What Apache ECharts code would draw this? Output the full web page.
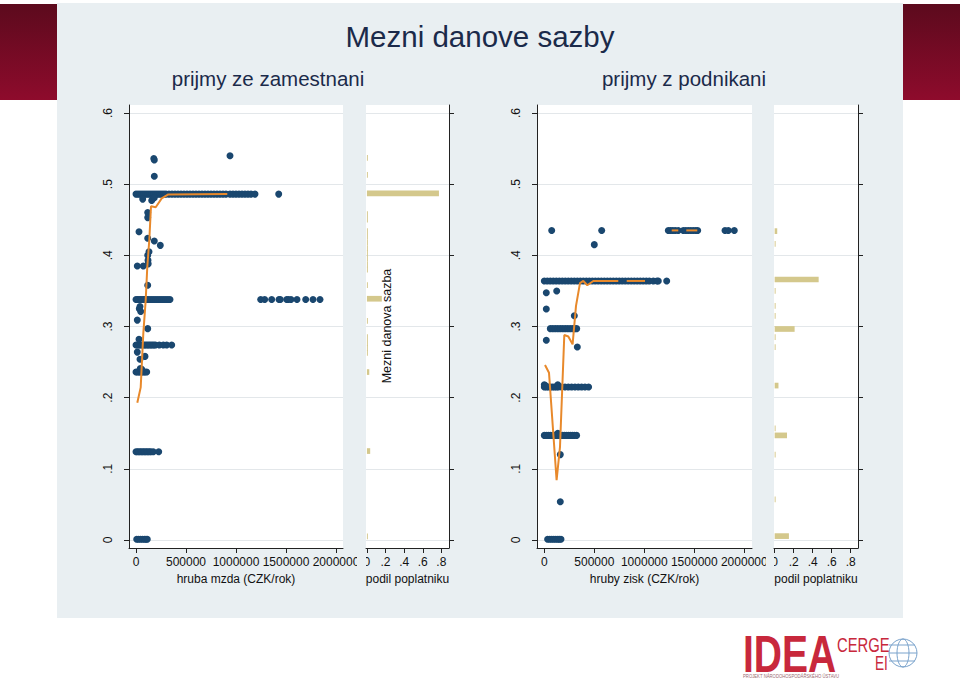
<!DOCTYPE html>
<html>
<head>
<meta charset="utf-8">
<title>Mezni danove sazby</title>
<script src="https://cdn.jsdelivr.net/npm/echarts@6/dist/echarts.min.js"></script>
<style>
  html, body { margin: 0; padding: 0; background: #fff; }
  #chart { width: 960px; height: 682px; }
</style>
</head>
<body>
<div id="chart"></div>
<script>
// --- prijmy ze zamestnani (rows of points that share one rate) ---
const zamRates = [0.486, 0.338, 0.274, 0.236, 0.124, 0.001];
const zamIncomes = [
  [0, 20000, 40000, 60000, 80000, 100000, 120000, 140000, 160000, 180000, 200000, 220000, 240000, 260000, 280000, 300000, 330000, 360000, 390000, 420000, 450000, 480000, 510000, 540000, 570000, 600000, 630000, 660000, 690000, 720000, 750000, 780000, 810000, 840000, 870000, 900000, 940000, 970000, 1000000, 1030000, 1060000, 1090000, 1120000, 1150000, 1190000, 1427000],
  [0, 15000, 30000, 45000, 60000, 75000, 90000, 105000, 120000, 140000, 160000, 180000, 200000, 220000, 240000, 260000, 280000, 300000, 320000, 340000, 1247000, 1287000, 1357000, 1430000, 1443000, 1507000, 1523000, 1550000, 1610000, 1697000, 1770000, 1840000],
  [0, 15000, 30000, 45000, 60000, 75000, 90000, 105000, 120000, 135000, 150000, 165000, 180000, 195000, 233000, 273000, 307000, 357000],
  [0, 15000, 30000, 45000, 60000, 75000, 90000, 107000],
  [0, 15000, 30000, 45000, 60000, 75000, 90000, 105000, 120000, 135000, 150000, 173000, 227000],
  [7000, 25000, 45000, 65000, 85000, 100000, 113000]
];
const zamSingles = [
  [940000, 0.540], [183000, 0.534], [178000, 0.536], [183000, 0.511], [67000, 0.479], [157000, 0.477],
  [170000, 0.480], [183000, 0.481], [117000, 0.460], [117000, 0.453], [30000, 0.433], [117000, 0.424],
  [183000, 0.420], [243000, 0.414], [130000, 0.405], [117000, 0.400], [120000, 0.393], [122000, 0.388],
  [13000, 0.385], [73000, 0.385], [117000, 0.358], [40000, 0.328], [33000, 0.325], [47000, 0.321],
  [13000, 0.309], [117000, 0.297], [30000, 0.282], [13000, 0.264], [90000, 0.258], [40000, 0.254],
  [43000, 0.241], [57000, 0.240]
];
const zamLine = [
  [13000, 0.193], [47000, 0.2145], [73000, 0.290], [97000, 0.337], [113000, 0.384], [133000, 0.4215],
  [150000, 0.469], [197000, 0.4675], [257000, 0.480], [323000, 0.4855], [913000, 0.486]
];
// podil poplatniku: [podil, sazba]
const zamHist = [
  [0.01, 0.537], [0.01, 0.513], [0.774, 0.487], [0.01, 0.458], [0.01, 0.450], [0.01, 0.434], [0.01, 0.426],
  [0.01, 0.418], [0.01, 0.410], [0.01, 0.403], [0.01, 0.395], [0.01, 0.387], [0.01, 0.380], [0.01, 0.358],
  [0.16, 0.339], [0.01, 0.308], [0.01, 0.285], [0.01, 0.277], [0.01, 0.270], [0.01, 0.263], [0.025, 0.236],
  [0.035, 0.125], [0.01, 0.005]
];

// --- prijmy z podnikani ---
const podRates = [0.435, 0.364, 0.297, 0.215, 0.147, 0.001];
const podIncomes = [
  [74000, 574000, 1240000, 1262000, 1285000, 1310000, 1340000, 1390000, 1415000, 1440000, 1465000, 1490000, 1515000, 1534000, 1807000, 1840000, 1900000],
  [0, 30000, 60000, 90000, 120000, 150000, 180000, 210000, 240000, 270000, 300000, 330000, 360000, 390000, 420000, 450000, 480000, 510000, 540000, 570000, 600000, 630000, 660000, 690000, 720000, 750000, 780000, 810000, 840000, 870000, 900000, 930000, 960000, 990000, 1020000, 1050000, 1090000, 1127000, 1140000, 1224000],
  [60000, 85000, 110000, 135000, 160000, 185000, 210000, 235000, 260000, 285000, 305000, 324000],
  [0, 20000, 40000, 60000, 80000, 100000, 120000, 140000, 173000, 207000, 240000, 273000, 307000, 340000, 373000, 407000, 443000],
  [0, 20000, 40000, 60000, 80000, 100000, 120000, 140000, 160000, 180000, 200000, 220000, 240000, 260000, 280000, 300000, 323000],
  [33000, 55000, 75000, 95000, 115000, 135000, 150000, 167000]
];
const podSingles = [
  [500000, 0.415], [20000, 0.3475], [124000, 0.3498], [20000, 0.3246], [300000, 0.3152], [20000, 0.2806],
  [330000, 0.2712], [0, 0.218], [10000, 0.217], [135000, 0.218], [160000, 0.120], [160000, 0.0538], [135000, 0.150]
];
const podLineA = [
  [7000, 0.246], [47000, 0.235], [123000, 0.084], [157000, 0.131], [200000, 0.288], [240000, 0.286],
  [283000, 0.275], [317000, 0.329], [357000, 0.361], [390000, 0.364], [430000, 0.358], [490000, 0.364], [740000, 0.364]
];
const podLineB = [[824000, 0.364], [1007000, 0.364]];
const podLineC = [[1274000, 0.435], [1340000, 0.435]];
const podLineD = [[1420000, 0.435], [1530000, 0.435]];
const podHist = [
  [0.027, 0.434], [0.01, 0.416], [0.463, 0.366], [0.01, 0.350], [0.01, 0.329], [0.01, 0.315], [0.21, 0.2965],
  [0.01, 0.285], [0.01, 0.271], [0.04, 0.217], [0.01, 0.157], [0.13, 0.147], [0.01, 0.120], [0.01, 0.057],
  [0.15, 0.0055]
];

// tick labels
const incomeTicks = [0, 500000, 1000000, 1500000, 2000000];
const rateTicks = [0, 0.1, 0.2, 0.3, 0.4, 0.5, 0.6];
const shareTicks = [0, 0.2, 0.4, 0.6, 0.8];

const FONT = '"Liberation Sans", Arial, Helvetica, sans-serif';
const NAVY = '#1a476f';
const ORANGE = '#e8892b';
const KHAKI = '#d4c88c';
const PANEL = '#e9eff2';
const AXIS = '#222';
const GRIDLINE = '#e3e7ea';

const decLabel = v => (v === 0 ? '0' : String(v).replace(/^0\./, '.'));

const rowsToPoints = (rates, incomes, singles) => {
  let pts = [];
  rates.forEach((r, i) => incomes[i].forEach(x => pts.push([x, r])));
  return pts.concat(singles);
};

const incomeAxis = (gridIndex, min, max, name) => ({
  gridIndex, type: 'value', min, max,
  axisLine: { show: true, onZero: false, lineStyle: { color: AXIS, width: 1 } },
  axisTick: { show: true, customValues: incomeTicks, length: 5, lineStyle: { color: AXIS } },
  axisLabel: { customValues: incomeTicks, formatter: v => String(v), fontSize: 12, color: '#111', margin: 8, fontFamily: FONT },
  splitLine: { show: false },
  name, nameLocation: 'middle', nameGap: 20,
  nameTextStyle: { fontSize: 12, color: '#111', fontFamily: FONT }
});
const shareAxis = (gridIndex, min, max) => ({
  gridIndex, type: 'value', min, max,
  axisLine: { show: true, onZero: false, lineStyle: { color: AXIS, width: 1 } },
  axisTick: { show: true, customValues: shareTicks, length: 5, lineStyle: { color: AXIS } },
  axisLabel: { customValues: shareTicks, formatter: decLabel, fontSize: 12, color: '#111', margin: 8, fontFamily: FONT },
  splitLine: { show: false },
  name: 'podil poplatniku', nameLocation: 'middle', nameGap: 20,
  nameTextStyle: { fontSize: 12, color: '#111', fontFamily: FONT }
});
const rateAxis = (gridIndex, right) => ({
  gridIndex, type: 'value', min: -0.0112, max: 0.6112,
  position: right ? 'right' : 'left',
  axisLine: { show: true, onZero: false, lineStyle: { color: AXIS, width: 1 } },
  axisTick: { show: true, customValues: rateTicks, length: 5, lineStyle: { color: AXIS } },
  axisLabel: { show: !right, customValues: rateTicks, formatter: decLabel, rotate: 90, fontSize: 12, color: '#111', margin: 15, fontFamily: FONT },
  splitLine: { show: true, lineStyle: { color: GRIDLINE, width: 1 } }
});

const histItem = (params, api) => {
  const p0 = api.coord([0, api.value(1) + 0.004]);
  const p1 = api.coord([api.value(0), api.value(1) - 0.004]);
  return { type: 'rect', shape: { x: p0[0], y: p0[1], width: p1[0] - p0[0], height: p1[1] - p0[1] }, style: { fill: KHAKI } };
};

const lineSeries = (idx, data) => ({
  type: 'line', xAxisIndex: idx, yAxisIndex: idx, data, showSymbol: false, symbol: 'none',
  lineStyle: { color: ORANGE, width: 2 }, silent: true, z: 3
});

const chart = echarts.init(document.getElementById('chart'), null, { renderer: 'svg' });
const option = {
  animation: false,
  backgroundColor: '#fff',
  grid: [
    { left: 129, top: 105, width: 214, height: 443, show: true, backgroundColor: '#fff', borderWidth: 0 },
    { left: 366, top: 105, width: 83, height: 443, show: true, backgroundColor: '#fff', borderWidth: 0 },
    { left: 537, top: 105, width: 215, height: 443, show: true, backgroundColor: '#fff', borderWidth: 0 },
    { left: 774, top: 105, width: 84, height: 443, show: true, backgroundColor: '#fff', borderWidth: 0 }
  ],
  xAxis: [
    incomeAxis(0, -70000, 2070000, 'hruba mzda (CZK/rok)'),
    shareAxis(1, -0.01, 0.882),
    incomeAxis(2, -73000, 2077000, 'hruby zisk (CZK/rok)'),
    shareAxis(3, -0.007, 0.877)
  ],
  yAxis: [rateAxis(0, false), rateAxis(1, true), rateAxis(2, false), rateAxis(3, true)],
  series: [
    { type: 'scatter', xAxisIndex: 0, yAxisIndex: 0, data: rowsToPoints(zamRates, zamIncomes, zamSingles),
      symbolSize: 7, itemStyle: { color: NAVY, opacity: 1 } },
    lineSeries(0, zamLine),
    { type: 'custom', xAxisIndex: 1, yAxisIndex: 1, data: zamHist, renderItem: histItem },
    { type: 'scatter', xAxisIndex: 2, yAxisIndex: 2, data: rowsToPoints(podRates, podIncomes, podSingles),
      symbolSize: 7, itemStyle: { color: NAVY, opacity: 1 } },
    lineSeries(2, podLineA), lineSeries(2, podLineB), lineSeries(2, podLineC), lineSeries(2, podLineD),
    { type: 'custom', xAxisIndex: 3, yAxisIndex: 3, data: podHist, renderItem: histItem }
  ],
  graphic: [
    { type: 'rect', z: -10, shape: { x: 57, y: 3, width: 846, height: 615 }, style: { fill: PANEL } },
    { type: 'rect', z: -10, shape: { x: 0, y: 4, width: 57, height: 96 },
      style: { fill: new echarts.graphic.LinearGradient(0, 0, 0, 1, [{ offset: 0, color: '#5c0a1d' }, { offset: 1, color: '#8e0b2c' }]) } },
    { type: 'rect', z: -10, shape: { x: 903, y: 4, width: 57, height: 96 },
      style: { fill: new echarts.graphic.LinearGradient(0, 0, 0, 1, [{ offset: 0, color: '#5c0a1d' }, { offset: 1, color: '#8e0b2c' }]) } },
    { type: 'text', x: 480, y: 36, style: { text: 'Mezni danove sazby', font: '29.5px ' + FONT, fill: '#1b2a4a', align: 'center', verticalAlign: 'middle' } },
    { type: 'text', x: 268, y: 78, style: { text: 'prijmy ze zamestnani', font: '20.5px ' + FONT, fill: '#1b2a4a', align: 'center', verticalAlign: 'middle' } },
    { type: 'text', x: 684, y: 78, style: { text: 'prijmy z podnikani', font: '20.5px ' + FONT, fill: '#1b2a4a', align: 'center', verticalAlign: 'middle' } },
    { type: 'text', x: 387, y: 326, rotation: Math.PI / 2, z: 5,
      style: { text: 'Mezni danova sazba', font: '12.5px ' + FONT, fill: '#111', align: 'center', verticalAlign: 'middle' } },
    // clipped last income label
    { type: 'rect', z: 20, shape: { x: 357, y: 553, width: 9, height: 18 }, style: { fill: PANEL } },
    { type: 'rect', z: 20, shape: { x: 766, y: 553, width: 8, height: 18 }, style: { fill: PANEL } },
    // logo
    { type: 'text', x: 743, y: 654, scaleX: 0.75, style: { text: 'IDEA', font: 'bold 52px ' + FONT, fill: '#c8283c', align: 'left', verticalAlign: 'middle' } },
    { type: 'text', x: 837, y: 645, scaleX: 0.76, style: { text: 'CERGE', font: '19.5px ' + FONT, fill: '#c8283c', align: 'left', verticalAlign: 'middle' } },
    { type: 'text', x: 875, y: 663, scaleX: 0.65, style: { text: 'EI', font: '21px ' + FONT, fill: '#c8283c', align: 'left', verticalAlign: 'middle' } },
    { type: 'text', x: 743, y: 676, scaleX: 0.85, style: { text: 'PROJEKT NÁRODOHOSPODÁŘSKÉHO ÚSTAVU', font: '5px ' + FONT, fill: '#9a6a70', align: 'left', verticalAlign: 'middle' } },
    { type: 'circle', shape: { cx: 903, cy: 653, r: 14 }, style: { fill: 'none', stroke: '#7aa3cc', lineWidth: 1 } },
    { type: 'ellipse', shape: { cx: 903, cy: 653, rx: 6, ry: 14 }, style: { fill: 'none', stroke: '#7aa3cc', lineWidth: 1 } },
    { type: 'line', shape: { x1: 889, y1: 645, x2: 915, y2: 645 }, style: { stroke: '#7aa3cc', lineWidth: 1 } },
    { type: 'line', shape: { x1: 889, y1: 653, x2: 917, y2: 653 }, style: { stroke: '#7aa3cc', lineWidth: 1 } },
    { type: 'line', shape: { x1: 889, y1: 661, x2: 915, y2: 661 }, style: { stroke: '#7aa3cc', lineWidth: 1 } }
  ]
};
chart.setOption(option);
</script>
</body>
</html>
